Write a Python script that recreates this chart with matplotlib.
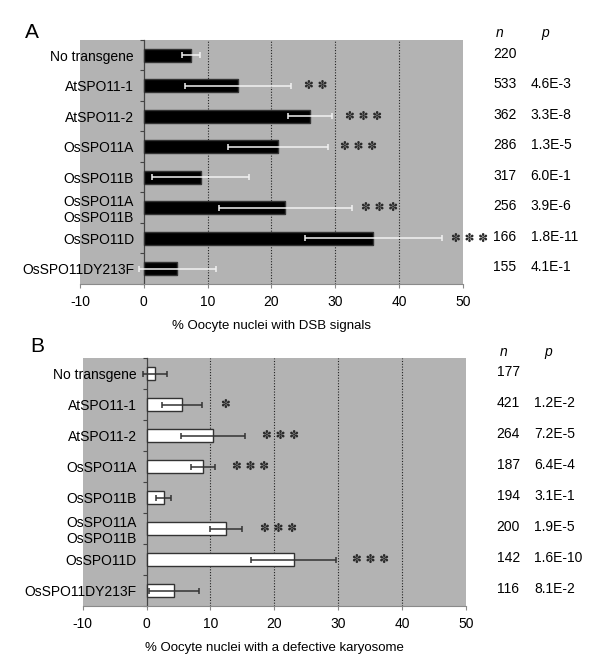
import matplotlib.pyplot as plt

plt.rcParams['font.family'] = ['Liberation Sans', 'DejaVu Sans']
plt.rcParams['axes.unicode_minus'] = False

# categories (shared by both panels)
labels = ["No transgene", "AtSPO11-1", "AtSPO11-2", "OsSPO11A", "OsSPO11B",
          "OsSPO11A\nOsSPO11B", "OsSPO11D", "OsSPO11DY213F"]

# panel A: % oocyte nuclei with DSB signals
dsb_mean = [7.45, 14.7, 26.05, 21.0, 8.9, 22.2, 36.0, 5.25]
dsb_err = [1.43, 8.3, 3.4, 7.8, 7.6, 10.4, 10.8, 6.0]
dsb_n = ["220", "533", "362", "286", "317", "256", "166", "155"]
dsb_p = ["", "4.6E-3", "3.3E-8", "1.3E-5", "6.0E-1", "3.9E-6", "1.8E-11", "4.1E-1"]
dsb_stars = [0, 2, 3, 3, 0, 3, 3, 0]
dsb_star_x = [0, 27.0, 34.4, 33.7, 0, 37.0, 51.1, 0]

# panel B: % oocyte nuclei with a defective karyosome
kar_mean = [1.35, 5.6, 10.45, 8.8, 2.65, 12.4, 23.0, 4.3]
kar_err = [1.85, 3.15, 5.0, 1.85, 1.2, 2.5, 6.7, 3.85]
kar_n = ["177", "421", "264", "187", "194", "200", "142", "116"]
kar_p = ["", "1.2E-2", "7.2E-5", "6.4E-4", "3.1E-1", "1.9E-5", "1.6E-10", "8.1E-2"]
kar_stars = [0, 1, 3, 3, 0, 3, 3, 0]
kar_star_x = [0, 12.3, 20.9, 16.2, 0, 20.6, 35.0, 0]

BG = "#b3b3b3"
STAR = "\u273d"


def draw_panel(ax, means, errs, ns, ps, stars, star_x, bar_color, err_color, xlabel):
    ypos = list(range(len(labels)))
    ax.set_facecolor(BG)
    ax.barh(ypos, means, height=0.42, color=bar_color, edgecolor="#333333",
            linewidth=1.0, zorder=3)
    ax.errorbar(means, ypos, xerr=errs, fmt="none", ecolor=err_color,
                elinewidth=1.1, capsize=2.5, capthick=1.1, zorder=4)
    for xv in [10, 20, 30, 40]:
        ax.axvline(xv, color="#222222", linestyle=(0, (1, 1.5)), linewidth=0.8, zorder=2)

    ax.set_xlim(-10, 50)
    ax.set_ylim(len(labels) - 0.5, -0.5)
    ax.set_xticks(range(-10, 51, 10))
    ax.set_yticks(ypos)
    ax.set_yticklabels(labels, fontsize=10, linespacing=1.05)
    ax.set_yticks([i - 0.5 for i in range(len(labels) + 1)], minor=True)
    ax.tick_params(axis="y", which="major", length=0, pad=7)
    ax.tick_params(axis="y", which="minor", length=3, color="#444444", width=0.8)
    ax.tick_params(axis="x", length=3, color="#888888", labelsize=10, pad=5)

    ax.spines["left"].set_position(("data", 0))
    ax.spines["left"].set_color("#444444")
    ax.spines["left"].set_linewidth(0.9)
    ax.spines["bottom"].set_color("#8a8a8a")
    ax.spines["top"].set_visible(False)
    ax.spines["right"].set_visible(False)
    ax.set_xlabel(xlabel, fontsize=9.5, labelpad=8)

    for i in ypos:
        if stars[i]:
            ax.text(star_x[i], i, " ".join([STAR] * stars[i]), ha="center",
                    va="center", fontsize=8.5, color="#2a2a2a",
                    family="DejaVu Sans", zorder=5, clip_on=False)

    tr = ax.get_yaxis_transform()
    ax.text(1.097, -0.72, "n", style="italic", fontsize=10, ha="center",
            va="center", transform=tr)
    ax.text(1.215, -0.72, "p", style="italic", fontsize=10, ha="center",
            va="center", transform=tr)
    for i in ypos:
        ax.text(1.11, i - 0.05, ns[i], fontsize=10, ha="center", va="center",
                transform=tr)
        ax.text(1.177, i - 0.05, ps[i], fontsize=10, ha="left", va="center",
                transform=tr)


fig = plt.figure(figsize=(6, 6.68), dpi=100)
ax_a = fig.add_axes([0.1333, 0.5749, 0.638, 0.3653])
ax_b = fig.add_axes([0.1378, 0.0928, 0.639, 0.3708])

draw_panel(ax_a, dsb_mean, dsb_err, dsb_n, dsb_p, dsb_stars, dsb_star_x,
           "black", "#f2f2f2", "% Oocyte nuclei with DSB signals")
draw_panel(ax_b, kar_mean, kar_err, kar_n, kar_p, kar_stars, kar_star_x,
           "white", "#333333", "% Oocyte nuclei with a defective karyosome")

fig.text(25 / 600, 1 - 32 / 668, "A", fontsize=15, ha="left", va="center")
fig.text(30 / 600, 1 - 346 / 668, "B", fontsize=15, ha="left", va="center")

fig.savefig("out.png", dpi=100)
